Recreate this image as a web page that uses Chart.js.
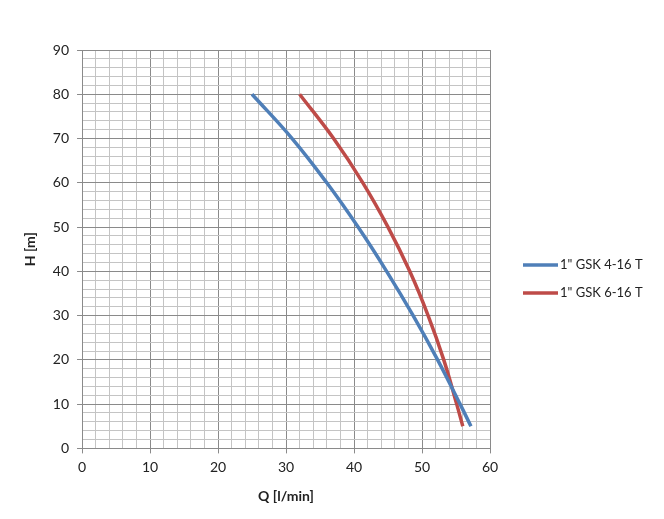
<!DOCTYPE html>
<html><head><meta charset="utf-8">
<script src="https://cdn.jsdelivr.net/npm/chart.js@4/dist/chart.umd.min.js"></script>
<style>html,body{margin:0;padding:0;background:#fff}#wrap{width:664px;height:519px}</style>
</head><body><div id="wrap"><canvas id="c" width="664" height="519"></canvas></div>
<script>
const seriesNames = ['1" GSK 4-16 T', '1" GSK 6-16 T'];
const gsk416Q = [25, 30.9, 36.0, 40.6, 44.8, 48.7, 52.3, 55.6, 57.2];
const gsk416H = [80, 70, 60, 50, 40, 30, 20, 10, 5];
const gsk616Q = [32, 37.0, 41.3, 45.0, 48.2, 50.9, 53.2, 55.1, 56.0];
const gsk616H = [80, 70, 60, 50, 40, 30, 20, 10, 5];
const xTicks = [0, 10, 20, 30, 40, 50, 60];
const yTicks = [0, 10, 20, 30, 40, 50, 60, 70, 80, 90];
const colors = ['#4F7FB8', '#BE4B48'];

const toPts = (q, h) => q.map((v, i) => ({x: v, y: h[i]}));
const FONT = 'Lato, "Open Sans", sans-serif';

const legendPlugin = {
  id: 'sideLegend',
  afterDraw(chart) {
    const ctx = chart.ctx;
    ctx.save();
    ctx.font = '13px ' + FONT;
    ctx.textBaseline = 'middle';
    chart.data.datasets.forEach((ds, i) => {
      const y = 265 + i * 28;
      ctx.strokeStyle = ds.borderColor;
      ctx.lineWidth = 3.5;
      ctx.beginPath(); ctx.moveTo(523, y); ctx.lineTo(558, y); ctx.stroke();
      ctx.fillStyle = '#222';
      ctx.fillText(ds.label, 560, y);
    });
    ctx.restore();
  }
};

const isMajor = v => Math.abs(v % 10) < 1e-6;

new Chart(document.getElementById('c'), {
  type: 'scatter',
  data: {
    datasets: [
      {label: seriesNames[0], data: toPts(gsk416Q, gsk416H), showLine: true, borderColor: colors[0], backgroundColor: colors[0], borderWidth: 3.5, pointRadius: 0, tension: 0.4},
      {label: seriesNames[1], data: toPts(gsk616Q, gsk616H), showLine: true, borderColor: colors[1], backgroundColor: colors[1], borderWidth: 3.5, pointRadius: 0, tension: 0.4}
    ]
  },
  options: {
    responsive: false,
    animation: false,
    layout: {padding: {left: 18, right: 174, top: 50, bottom: 10}},
    plugins: {legend: {display: false}, tooltip: {enabled: false}},
    scales: {
      x: {
        type: 'linear', min: 0, max: 60,
        ticks: {stepSize: 2, autoSkip: false, maxRotation: 0, color: '#222', font: {family: FONT, size: 14}, padding: 6,
          callback: v => xTicks.includes(v) ? String(v) : ''},
        grid: {color: c => isMajor(c.tick.value) ? '#8a8a8a' : '#c4c4c4', lineWidth: 1, tickLength: 5,
          tickColor: c => isMajor(c.tick.value) ? '#8a8a8a' : 'rgba(0,0,0,0)'},
        border: {color: '#8a8a8a'},
        title: {display: true, text: 'Q [l/min]', color: '#222', font: {family: FONT, size: 14, weight: 'bold'}, padding: {top: 6}}
      },
      y: {
        type: 'linear', min: 0, max: 90,
        ticks: {stepSize: 2, autoSkip: false, color: '#222', font: {family: FONT, size: 14}, padding: 8,
          callback: v => yTicks.includes(v) ? String(v) : ''},
        grid: {color: c => isMajor(c.tick.value) ? '#8a8a8a' : '#c4c4c4', lineWidth: 1, tickLength: 5,
          tickColor: c => isMajor(c.tick.value) ? '#8a8a8a' : 'rgba(0,0,0,0)'},
        border: {color: '#8a8a8a'},
        title: {display: true, text: 'H [m]', color: '#222', font: {family: FONT, size: 14, weight: 'bold'}, padding: {bottom: 6}}
      }
    }
  },
  plugins: [legendPlugin]
});
</script></body></html>
